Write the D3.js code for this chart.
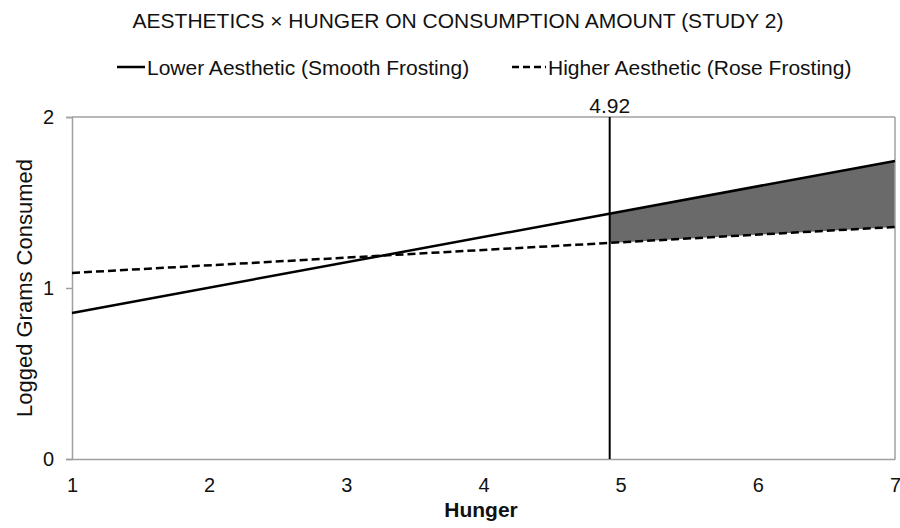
<!DOCTYPE html>
<html><head><meta charset="utf-8">
<script src="https://cdn.jsdelivr.net/npm/d3@7"></script>
<style>body{margin:0;background:#fff;}svg{display:block;font-family:"Liberation Sans",Arial,sans-serif;}</style>
</head><body>
<svg id="c" width="900" height="528"></svg>
<script>
const title = "AESTHETICS \u00d7 HUNGER ON CONSUMPTION AMOUNT (STUDY 2)";
const seriesNames = ["Lower Aesthetic (Smooth Frosting)", "Higher Aesthetic (Rose Frosting)"];
const hungerX = [1, 7];
const lowerAesthetic = [0.854, 1.743];
const higherAesthetic = [1.088, 1.357];
const jnPoint = 4.92;
const xTicks = [1, 2, 3, 4, 5, 6, 7];
const yTicks = [0, 1, 2];

const FONT = "Liberation Sans, Arial, sans-serif";
const svg = d3.select("#c");
const x = d3.scaleLinear().domain([1, 7]).range([72, 895]);
const y = d3.scaleLinear().domain([0, 2]).range([459, 117]);

const interp = (vals, h) => vals[0] + (vals[1] - vals[0]) * (h - hungerX[0]) / (hungerX[1] - hungerX[0]);

// title
svg.append("text").attr("x", 458).attr("y", 28).attr("text-anchor", "middle")
  .attr("font-size", 21).attr("fill", "#111").text(title);

// legend
const lg = svg.append("g");
lg.append("line").attr("x1", 117).attr("x2", 145).attr("y1", 67).attr("y2", 67).attr("stroke", "#000").attr("stroke-width", 2.5);
lg.append("text").attr("x", 147).attr("y", 75).attr("font-size", 21).attr("fill", "#111").text(seriesNames[0]);
lg.append("line").attr("x1", 512).attr("x2", 546).attr("y1", 67).attr("y2", 67).attr("stroke", "#000").attr("stroke-width", 2.5).attr("stroke-dasharray", "7,4");
lg.append("text").attr("x", 548).attr("y", 75).attr("font-size", 21).attr("fill", "#111").text(seriesNames[1]);

// shaded region
const shadeXs = [jnPoint, hungerX[1]];
const area = d3.area().x(d => x(d)).y0(d => y(interp(higherAesthetic, d))).y1(d => y(interp(lowerAesthetic, d)));
svg.append("path").datum(shadeXs).attr("d", area).attr("fill", "#6a6a6a");

// frame: top and right
svg.append("line").attr("x1", x(1)).attr("x2", x(7)).attr("y1", y(2)).attr("y2", y(2)).attr("stroke", "#a0a0a0").attr("stroke-width", 1.5);
svg.append("line").attr("x1", x(7)).attr("x2", x(7)).attr("y1", y(2)).attr("y2", y(0)).attr("stroke", "#a0a0a0").attr("stroke-width", 1.5);

// axes
const yAxis = d3.axisLeft(y).tickValues(yTicks).tickFormat(d3.format("d")).tickSize(6).tickPadding(12);
const gy = svg.append("g").attr("transform", `translate(${x(1)},0)`).call(yAxis);
gy.select(".domain").attr("stroke", "#a0a0a0").attr("stroke-width", 1.5);
gy.selectAll(".tick line").attr("stroke", "#a0a0a0").attr("stroke-width", 1.5);
gy.selectAll(".tick text").attr("font-size", 20).attr("fill", "#111").attr("font-family", FONT);

const xAxis = d3.axisBottom(x).tickValues(xTicks).tickFormat(d3.format("d")).tickSize(0).tickPadding(19);
const gx = svg.append("g").attr("transform", `translate(0,${y(0)})`).call(xAxis);
gx.select(".domain").attr("stroke", "#a0a0a0").attr("stroke-width", 1.5);
gx.selectAll(".tick text").attr("font-size", 20).attr("fill", "#111").attr("font-family", FONT);

// axis titles
svg.append("text").attr("transform", "translate(32,288) rotate(-90)").attr("text-anchor", "middle")
  .attr("font-size", 22).attr("fill", "#111").text("Logged Grams Consumed");
svg.append("text").attr("x", 481).attr("y", 517).attr("text-anchor", "middle")
  .attr("font-size", 21).attr("font-weight", "bold").attr("fill", "#111").text("Hunger");

// vertical line at J-N point
svg.append("line").attr("x1", x(jnPoint)).attr("x2", x(jnPoint)).attr("y1", y(2)).attr("y2", y(0)).attr("stroke", "#000").attr("stroke-width", 2);
svg.append("text").attr("x", x(jnPoint)).attr("y", 113).attr("text-anchor", "middle")
  .attr("font-size", 21).attr("fill", "#111").text(jnPoint.toFixed(2));

// lines
const line = d3.line().x((d, i) => x(hungerX[i])).y(d => y(d));
svg.append("path").datum(higherAesthetic).attr("d", line).attr("fill", "none").attr("stroke", "#000").attr("stroke-width", 2.5).attr("stroke-dasharray", "8,4");
svg.append("path").datum(lowerAesthetic).attr("d", line).attr("fill", "none").attr("stroke", "#000").attr("stroke-width", 2.5);
</script>
</body></html>
